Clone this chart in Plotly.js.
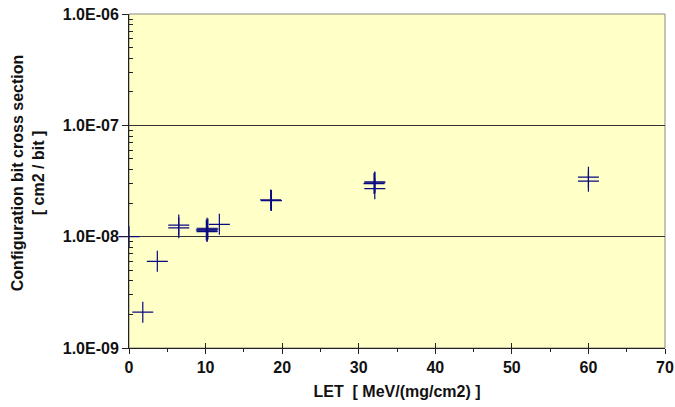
<!DOCTYPE html>
<html>
<head>
<meta charset="utf-8">
<script src="https://cdn.plot.ly/plotly-3.0.1.min.js"></script>
<style>html,body{margin:0;padding:0;background:#ffffff;}#chart{width:675px;height:407px;}</style>
</head>
<body>
<div id="chart"></div>
<script>
// LET values [MeV/(mg/cm2)]
const letValues = [0, 1.8, 3.7, 6.5, 6.5, 10.2, 10.2, 10.1, 10.3, 10.2, 11.8, 18.5, 18.6, 32.1, 32.1, 32.0, 32.1, 60.0, 60.0];
// Configuration bit cross section [cm2/bit]
const crossSection = [1.0e-8, 2.1e-9, 6.0e-9, 1.27e-8, 1.20e-8, 1.11e-8, 1.13e-8, 1.15e-8, 1.17e-8, 1.19e-8, 1.29e-8, 2.14e-8, 2.11e-8, 3.10e-8, 3.05e-8, 3.00e-8, 2.70e-8, 3.42e-8, 3.15e-8];
const yTickValues = [1e-9, 1e-8, 1e-7, 1e-6];
const xTickValues = [0, 10, 20, 30, 40, 50, 60, 70];
const xMinorValues = [5, 15, 25, 35, 45, 55, 65];
const xTitle = 'LET&nbsp; [ MeV/(mg/cm2) ]';
const yTitle = 'Configuration bit cross section<br>[ cm2 / bit ]';

function sciLabel(v) {
  const e = Math.round(Math.log10(v));
  const m = v / Math.pow(10, e);
  const sign = e < 0 ? '-' : '+';
  const a = Math.abs(e);
  return m.toFixed(1) + 'E' + sign + (a < 10 ? '0' + a : String(a));
}
const yTickText = yTickValues.map(sciLabel);
const minorY = [];
for (let d = -9; d < -6; d++) { for (let k = 2; k <= 9; k++) minorY.push(k * Math.pow(10, d)); }

const fontFam = 'Liberation Sans, Arial, sans-serif';
const tickFont = {family: fontFam, size: 16, color: '#111111', weight: 'bold'};

const data = [
  {
    type: 'scatter', mode: 'markers', x: letValues, y: crossSection,
    cliponaxis: false,
    marker: {symbol: 'cross-thin', size: 15, color: '#0a0a80', line: {color: '#0a0a80', width: 1.2}},
    hoverinfo: 'x+y'
  },
  { type: 'scatter', mode: 'markers', x: [], y: [], xaxis: 'x2', yaxis: 'y', showlegend: false, hoverinfo: 'skip' }
];

const layout = {
  width: 675, height: 407,
  margin: {l: 129, r: 10, t: 14, b: 59},
  paper_bgcolor: '#ffffff',
  plot_bgcolor: '#ffffc8',
  showlegend: false,
  xaxis: {
    range: [-0.0001, 70.0001], tickvals: xTickValues, ticktext: xTickValues.map(String),
    ticks: 'outside', ticklen: 5, tickwidth: 1, tickcolor: '#222',
    ticklabeloverflow: 'allow',
    minor: {ticks: 'outside', ticklen: 3, tickvals: xMinorValues, tickcolor: '#222', showgrid: false},
    showline: true, linecolor: '#222', linewidth: 1,
    showgrid: false, zeroline: false,
    tickfont: tickFont,
    title: {text: xTitle, font: tickFont, standoff: 10}
  },
  xaxis2: {
    range: [-0.0001, 70.0001], overlaying: 'x', anchor: 'y', side: 'bottom',
    tickvals: xTickValues, ticks: 'inside', ticklen: 5, tickcolor: '#222',
    showticklabels: false, showgrid: false, zeroline: false, showline: false
  },
  yaxis: {
    type: 'log', range: [-9, -6],
    tickvals: yTickValues, ticktext: yTickText,
    ticks: 'outside', ticklen: 6, tickwidth: 1, tickcolor: '#222',
    minor: {ticks: 'inside', ticklen: 4, tickvals: minorY, tickcolor: '#222', showgrid: false},
    showline: true, linecolor: '#222', linewidth: 1,
    showgrid: true, gridcolor: '#333333', gridwidth: 1,
    zeroline: false,
    tickfont: tickFont
  },
  annotations: [
    {text: yTitle, xref: 'paper', yref: 'paper', x: -0.188, y: 0.524,
     xanchor: 'center', yanchor: 'middle', textangle: -90, showarrow: false,
     font: tickFont}
  ],
  shapes: [
    {type: 'rect', xref: 'paper', yref: 'paper', x0: 0, x1: 1, y0: 0, y1: 1,
     line: {color: '#8a8a80', width: 1}, layer: 'below'}
  ]
};

Plotly.newPlot('chart', data, layout, {staticPlot: true});
</script>
</body>
</html>
